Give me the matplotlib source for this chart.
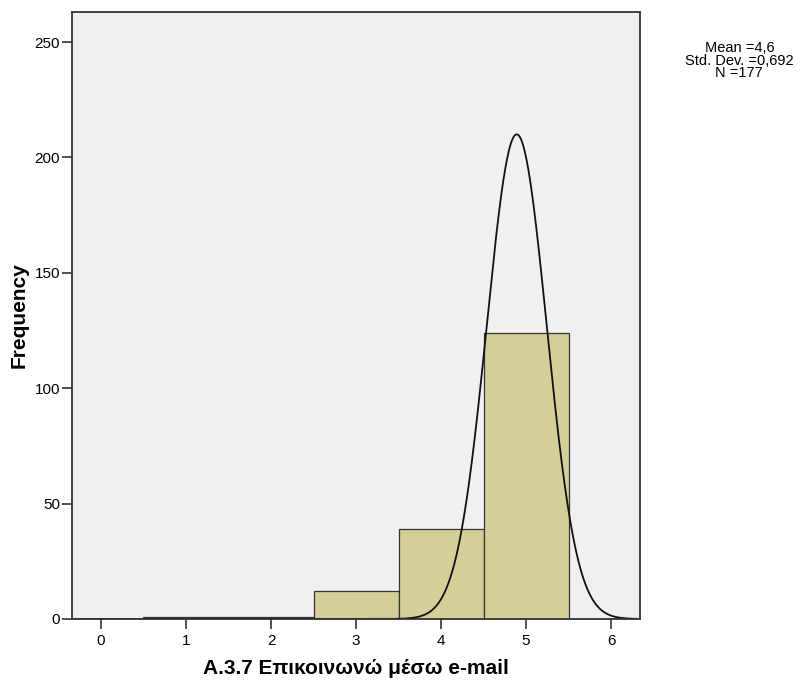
import numpy as np
import matplotlib.pyplot as plt

plt.rcParams['font.family'] = ['Liberation Sans', 'DejaVu Sans']

# histogram data (response values and counts)
values = [1, 2, 3, 4, 5]
counts = [1, 1, 12, 39, 124]

# summary shown in the corner
mean_txt = "4,6"
sd_txt = "0,692"
n_txt = "177"

# normal curve as drawn in the picture (centre, spread, peak height)
curve_center = 4.89
curve_sd = 0.352
curve_peak = 210

fig = plt.figure(figsize=(8.01, 6.86), dpi=100)
ax = fig.add_axes([0.0905, 0.0977, 0.7085, 0.8848])
ax.set_facecolor("#f0f0f0")

ax.bar(values, counts, width=1.0, color="#d4cf98", edgecolor="#333333", linewidth=0.9)

xs = np.linspace(-0.3, 6.3, 600)
ys = curve_peak * np.exp(-0.5 * ((xs - curve_center) / curve_sd) ** 2)
ax.plot(xs, ys, color="#111111", linewidth=1.3)

ax.set_xlim(-0.335, 6.34)
ax.set_ylim(0, 263)
ax.set_xticks(range(0, 7))
ax.set_yticks([0, 50, 100, 150, 200, 250])
ax.tick_params(axis="both", labelsize=11, length=7, width=1.2, color="#333333", pad=2)
ax.tick_params(axis="x", pad=3.5)

for side in ["left", "bottom", "top", "right"]:
    ax.spines[side].set_color("#333333")
    ax.spines[side].set_linewidth(1.3)

ax.set_xlabel("A.3.7 Επικοινωνώ μέσω e-mail", fontsize=15, fontweight="bold", labelpad=8)
ax.set_ylabel("Frequency", fontsize=15, fontweight="bold", labelpad=4)

fig.text(0.923, 0.94, f"Mean ={mean_txt}\nStd. Dev. ={sd_txt}\nN ={n_txt}",
         ha="center", va="top", fontsize=10.5, linespacing=0.85)

fig.savefig("out.png", dpi=100)
